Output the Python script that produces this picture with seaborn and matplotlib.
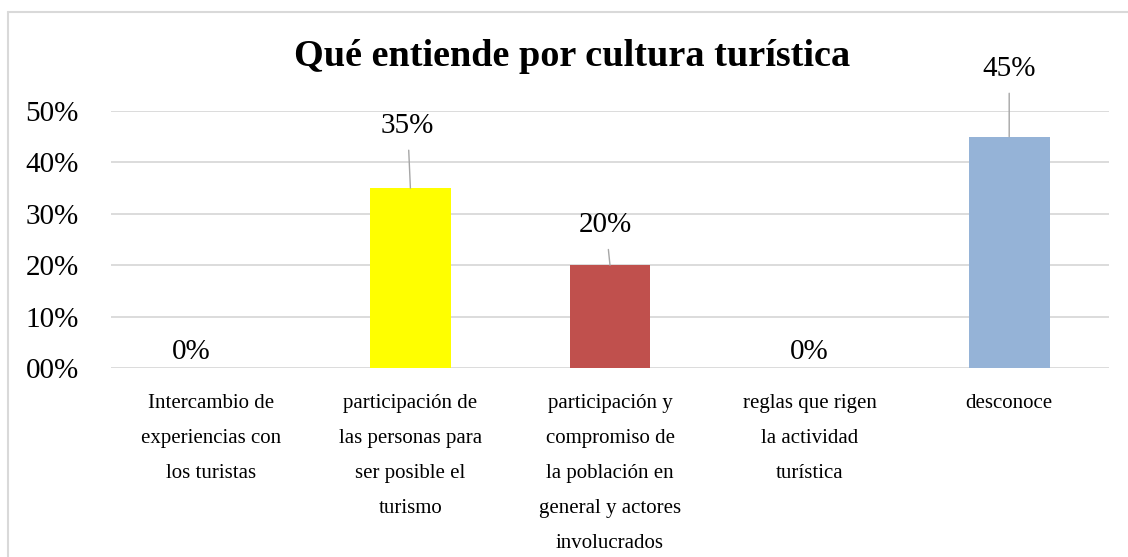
import matplotlib
matplotlib.use("Agg")
import matplotlib.pyplot as plt
import seaborn as sns
import pandas as pd
from matplotlib.lines import Line2D

categories = [
    "Intercambio de\nexperiencias con\nlos turistas",
    "participación de\nlas personas para\nser posible el\nturismo",
    "participación y\ncompromiso de\nla población en\ngeneral y actores\ninvolucrados",
    "reglas que rigen\nla actividad\nturística",
    "desconoce",
]
values = [0.0, 0.35, 0.20, 0.0, 0.45]
colors = ["#4F81BD", "#FFFF00", "#C0504D", "#8064A2", "#95B3D7"]
value_labels = ["0%", "35%", "20%", "0%", "45%"]
ytick_vals = [0.0, 0.1, 0.2, 0.3, 0.4, 0.5]
ytick_labels = ["00%", "10%", "20%", "30%", "40%", "50%"]
title = "Qué entiende por cultura turística"

sns.set_theme(style="white")
plt.rcParams["font.family"] = ["Liberation Serif", "DejaVu Serif"]

fig = plt.figure(figsize=(11.28, 5.57), dpi=100)
ax = fig.add_axes([111 / 1128, 1 - 368 / 557, (1109 - 111) / 1128, (368 - 111) / 557])

df = pd.DataFrame({"cat": categories, "val": values})
sns.barplot(data=df, x="cat", y="val", hue="cat", palette=colors, width=0.405,
            legend=False, ax=ax, saturation=1, linewidth=0)

ax.set_ylim(0, 0.5)
ax.set_xlim(-0.5, len(categories) - 0.5)
ax.set_yticks(ytick_vals)
ax.set_yticklabels(ytick_labels, fontsize=21, color="black")
ax.tick_params(axis="y", length=0, pad=23)
ax.tick_params(axis="x", length=0, pad=19)
for lbl in ax.get_xticklabels():
    lbl.set_fontsize(15)
    lbl.set_linespacing(2.14)
    lbl.set_color("black")
ax.set_xlabel("")
ax.set_ylabel("")
ax.grid(axis="y", color="#D9D9D9", linewidth=1.3)
ax.set_axisbelow(True)
for s in ax.spines.values():
    s.set_visible(False)

# data labels (offsets in points)
offsets = [(-14, 11.5), (-2, 45), (-3, 29), (0, 11.5), (0, 49)]
for i, (v, t) in enumerate(zip(values, value_labels)):
    dx, dy = offsets[i]
    if v > 0:
        ax.annotate(t, xy=(i, v), xytext=(dx, dy), textcoords="offset points",
                    ha="center", va="center", fontsize=21, color="black",
                    arrowprops=dict(arrowstyle="-", color="#A6A6A6", lw=1,
                                    shrinkA=6, shrinkB=0))
    else:
        ax.annotate(t, xy=(i, v), xytext=(dx, dy), textcoords="offset points",
                    ha="center", va="center", fontsize=21, color="black")

fig.text(572.5 / 1128, 1 - 57 / 557, title, ha="center", va="center",
         fontsize=27.5, fontweight="bold", color="black")

# chart border (left and top edges)
fig.add_artist(Line2D([8 / 1128, 8 / 1128], [0, 1 - 12 / 557], transform=fig.transFigure,
                      color="#D9D9D9", lw=1.5))
fig.add_artist(Line2D([8 / 1128, 1], [1 - 12 / 557, 1 - 12 / 557], transform=fig.transFigure,
                      color="#D9D9D9", lw=1.5))

fig.savefig("out.png", dpi=100)
